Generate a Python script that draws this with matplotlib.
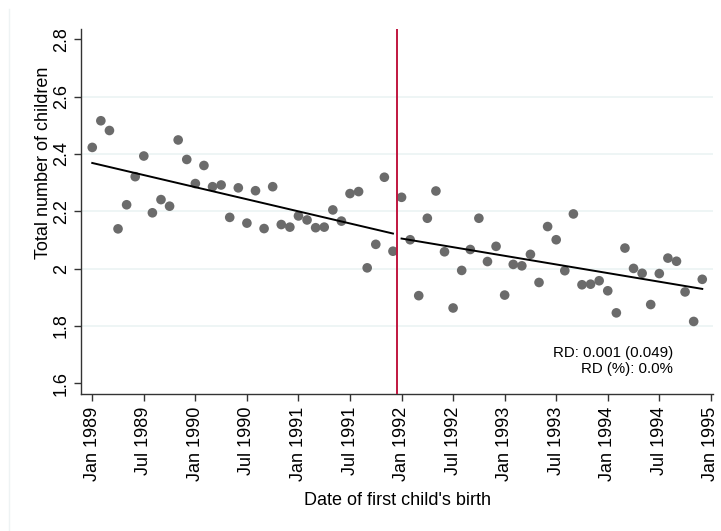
import numpy as np
import matplotlib
matplotlib.use("Agg")
import matplotlib.pyplot as plt
from matplotlib.lines import Line2D

plt.rcParams['font.family'] = ['Liberation Sans', 'DejaVu Sans']

# ---- data (monthly, Jan 1989 .. Dec 1994; month index 0 = Jan 1989) ----
months = list(range(72))
total_children = [
    2.423, 2.516, 2.482, 2.139, 2.223, 2.321, 2.393, 2.195, 2.241, 2.218, 2.449, 2.381,
    2.297, 2.360, 2.286, 2.292, 2.179, 2.282, 2.159, 2.272, 2.140, 2.286, 2.154, 2.145,
    2.184, 2.170, 2.143, 2.145, 2.205, 2.166, 2.262, 2.269, 2.003, 2.085, 2.319, 2.061,
    2.249, 2.101, 1.906, 2.176, 2.271, 2.059, 1.863, 1.994, 2.067, 2.176, 2.025, 2.078,
    1.908, 2.015, 2.010, 2.050, 1.952, 2.147, 2.101, 1.993, 2.191, 1.944, 1.946, 1.958,
    1.923, 1.846, 2.072, 2.001, 1.984, 1.875, 1.983, 2.037, 2.026, 1.919, 1.816, 1.963,
]
cutoff_month = 35.5
tick_months = [0, 6, 12, 18, 24, 30, 36, 42, 48, 54, 60, 66, 72]
tick_labels = ["Jan 1989", "Jul 1989", "Jan 1990", "Jul 1990", "Jan 1991", "Jul 1991",
               "Jan 1992", "Jul 1992", "Jan 1993", "Jul 1993", "Jan 1994", "Jul 1994",
               "Jan 1995"]
y_ticks = [1.6, 1.8, 2.0, 2.2, 2.4, 2.6, 2.8]
y_tick_labels = ["1.6", "1.8", "2", "2.2", "2.4", "2.6", "2.8"]
rd_text = "RD: 0.001 (0.049)\nRD (%): 0.0%"

x = np.array(months, dtype=float)
y = np.array(total_children)
left = x < cutoff_month
right = ~left

fig = plt.figure(figsize=(7.21, 5.31), dpi=100)
ax = fig.add_axes([81/721, 1 - 394/531, (713-81)/721, (394-29)/531])

# faint outer border line (left)
fig.add_artist(Line2D([9/721, 9/721], [0, 1 - 9/531], transform=fig.transFigure,
                      color="#eef3f4", lw=1))

for gy in y_ticks[1:-1]:
    ax.axhline(gy, color="#eaf2f3", lw=1.1, zorder=0)

ax.scatter(x, y, s=48, color="#6b6b6b", edgecolors="none", zorder=3)

for mask in (left, right):
    c = np.polyfit(x[mask], y[mask], 1)
    xs = np.array([x[mask].min(), x[mask].max()])
    ax.plot(xs, np.polyval(c, xs), color="black", lw=1.4, zorder=4)

ax.axvline(cutoff_month, color="#c0163f", lw=1.4, zorder=5)

ax.set_xlim(-1.31, 72.25)
ax.set_ylim(1.563, 2.836)
ax.set_xticks(tick_months)
ax.set_xticklabels(tick_labels, rotation=90, fontsize=13)
ax.set_yticks(y_ticks)
ax.set_yticklabels(y_tick_labels, rotation=90, fontsize=13, va="center")
ax.tick_params(axis="both", direction="out", length=5, width=1, color="#333333")
ax.tick_params(axis="x", pad=4)
ax.tick_params(axis="y", pad=3)
for s in ("top", "right"):
    ax.spines[s].set_visible(False)
for s in ("left", "bottom"):
    ax.spines[s].set_color("#333333")
    ax.spines[s].set_linewidth(1)

ax.set_ylabel("Total number of children", fontsize=13, labelpad=3)
ax.yaxis.set_label_coords(-0.046, (394 - 163) / 365)
ax.set_xlabel("Date of first child's birth", fontsize=13, labelpad=8)

ax.text(0.937, 0.090, rd_text, transform=ax.transAxes, ha="right", va="center",
        fontsize=10.8, linespacing=1.2, multialignment="right")

fig.savefig("out.png", dpi=100, facecolor="white")
